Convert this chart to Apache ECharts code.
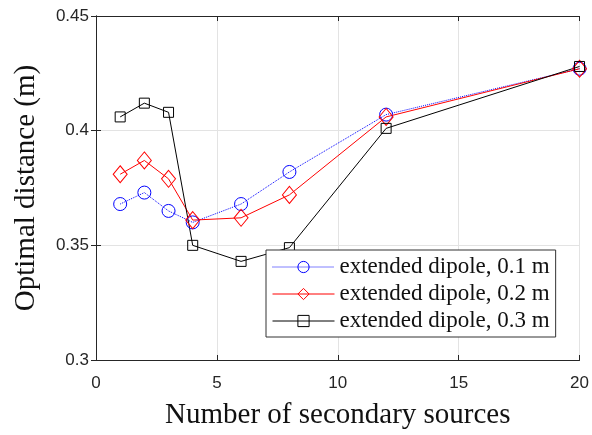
<!DOCTYPE html>
<html>
<head>
<meta charset="utf-8">
<script src="https://cdn.jsdelivr.net/npm/echarts@6/dist/echarts.min.js"></script>
<style>
  html, body { margin: 0; padding: 0; background: #fff; }
  #chart { width: 592px; height: 435px; }
</style>
</head>
<body>
<div id="chart"></div>
<script>
const sources = [1, 2, 3, 4, 6, 8, 12, 20];
const dipole01 = [0.368, 0.373, 0.365, 0.360, 0.368, 0.382, 0.407, 0.427];
const dipole02 = [0.381, 0.387, 0.379, 0.361, 0.362, 0.372, 0.406, 0.427];
const dipole03 = [0.406, 0.412, 0.408, 0.350, 0.343, 0.349, 0.401, 0.428];
const seriesNames = ['extended dipole, 0.1 m', 'extended dipole, 0.2 m', 'extended dipole, 0.3 m'];

const pairs = (ys) => sources.map((x, i) => [x, ys[i]]);

const chart = echarts.init(document.getElementById('chart'));

const axisColor = '#262626';
const gridColor = '#e3e3e3';

const option = {
  animation: false,
  grid: { left: 96, right: 12, top: 16, bottom: 73 },
  xAxis: [
    {
      type: 'value', min: 0, max: 20, interval: 5,
      name: 'Number of secondary sources',
      nameLocation: 'middle', nameGap: 41,
      nameTextStyle: { fontFamily: 'Liberation Serif', fontSize: 29, color: '#111' },
      axisLine: { show: true, lineStyle: { color: axisColor, width: 1 } },
      axisTick: { show: true, inside: true, length: 5, lineStyle: { color: axisColor } },
      axisLabel: { fontFamily: 'Liberation Sans', fontSize: 17, color: axisColor, margin: 15 },
      splitLine: { show: true, lineStyle: { color: gridColor } }
    },
    {
      type: 'value', min: 0, max: 20, interval: 5, position: 'top',
      axisLine: { show: true, lineStyle: { color: axisColor, width: 1 } },
      axisTick: { show: true, inside: true, length: 5, lineStyle: { color: axisColor } },
      axisLabel: { show: false },
      splitLine: { show: false }
    }
  ],
  yAxis: [
    {
      type: 'value', min: 0.3, max: 0.45, interval: 0.05,
      name: 'Optimal distance (m)',
      nameLocation: 'middle', nameGap: 55,
      nameTextStyle: { fontFamily: 'Liberation Serif', fontSize: 29, color: '#111' },
      axisLine: { show: true, lineStyle: { color: axisColor, width: 1 } },
      axisTick: { show: true, inside: true, length: 5, lineStyle: { color: axisColor } },
      axisLabel: { fontFamily: 'Liberation Sans', fontSize: 17, color: axisColor, margin: 7 },
      splitLine: { show: true, lineStyle: { color: gridColor } }
    },
    {
      type: 'value', min: 0.3, max: 0.45, interval: 0.05, position: 'right',
      axisLine: { show: true, lineStyle: { color: axisColor, width: 1 } },
      axisTick: { show: true, inside: true, length: 5, lineStyle: { color: axisColor } },
      axisLabel: { show: false },
      splitLine: { show: false }
    }
  ],
  legend: {
    left: 266, top: 250,
    orient: 'vertical',
    backgroundColor: '#fff',
    borderColor: '#333', borderWidth: 1, borderRadius: 0,
    padding: [5, 6, 4, 6],
    itemWidth: 62, itemHeight: 14, itemGap: 3,
    itemStyle: { borderWidth: 1 },
    lineStyle: { width: 1 },
    textStyle: { fontFamily: 'Liberation Serif', fontSize: 23, lineHeight: 24, color: '#111' },
    data: seriesNames
  },
  series: [
    {
      name: seriesNames[0], type: 'line', data: pairs(dipole01),
      symbol: 'circle', symbolSize: 13,
      lineStyle: { color: '#0000ff', width: 1, type: 'dotted' },
      itemStyle: { color: 'rgba(0,0,0,0)', borderColor: '#0000ff', borderWidth: 1 }
    },
    {
      name: seriesNames[1], type: 'line', data: pairs(dipole02),
      symbol: 'diamond', symbolSize: [14, 17],
      lineStyle: { color: '#ff0000', width: 1 },
      itemStyle: { color: 'rgba(0,0,0,0)', borderColor: '#ff0000', borderWidth: 1 }
    },
    {
      name: seriesNames[2], type: 'line', data: pairs(dipole03),
      symbol: 'rect', symbolSize: 10,
      lineStyle: { color: '#000000', width: 1 },
      itemStyle: { color: 'rgba(0,0,0,0)', borderColor: '#000000', borderWidth: 1 }
    }
  ]
};

chart.setOption(option);
</script>
</body>
</html>
